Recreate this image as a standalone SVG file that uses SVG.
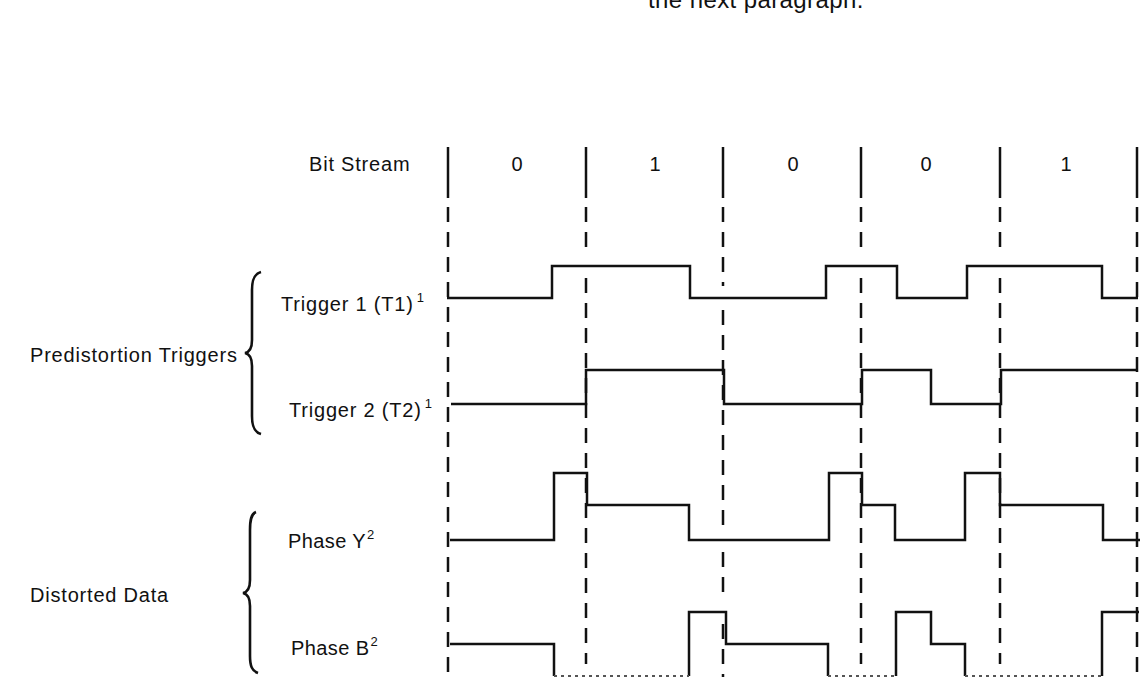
<svg xmlns="http://www.w3.org/2000/svg" width="1144" height="677" viewBox="0 0 1144 677">
<style>
  .lbl { font-family: "Liberation Sans", Arial, sans-serif; font-size: 20px; fill: #111; letter-spacing: 0.8px; }
  .sup { font-size: 13px; }
  .bit { font-family: "Liberation Sans", Arial, sans-serif; font-size: 20px; fill: #111; text-anchor: middle; }
  .wave { fill: none; stroke: #111; stroke-width: 2.5; stroke-linejoin: miter; }
  .solid { stroke: #111; stroke-width: 2.5; }
  .dash { fill: none; stroke: #111; stroke-width: 2.5; stroke-dasharray: 15 10; }
  .brace { fill: none; stroke: #111; stroke-width: 2.6; }
  .faint { fill: none; stroke: #555; stroke-width: 2; stroke-dasharray: 3 4; }
</style>
<rect width="1144" height="677" fill="#fff"/>

<g id="top-text">
  <text class="lbl" x="648" y="8" style="font-size:24px;letter-spacing:0.4px">the next paragraph.</text>
</g>

<g id="bitstream">
  <text class="lbl" x="309" y="171">Bit Stream</text>
  <line class="solid" x1="448" y1="147" x2="448" y2="198"/>
  <line class="solid" x1="586" y1="147" x2="586" y2="198"/>
  <line class="solid" x1="723" y1="147" x2="723" y2="198"/>
  <line class="solid" x1="861" y1="147" x2="861" y2="198"/>
  <line class="solid" x1="1000" y1="147" x2="1000" y2="198"/>
  <line class="solid" x1="1137" y1="147" x2="1137" y2="198"/>
  <text class="bit" x="517" y="171">0</text>
  <text class="bit" x="655" y="171">1</text>
  <text class="bit" x="793" y="171">0</text>
  <text class="bit" x="926" y="171">0</text>
  <text class="bit" x="1066" y="171">1</text>
</g>

<g id="connectors">
  <path class="dash" d="M448,207 V677"/>
  <path class="dash" d="M586,207 V254 M586,278 V664"/>
  <path class="dash" d="M723,207 V286 M723,310 V528 M723,552 V600 M723,624 V677"/>
  <path class="dash" d="M861,207 V254 M861,278 V664"/>
  <path class="dash" d="M1000,207 V254 M1000,278 V664"/>
  <path class="dash" d="M1137,207 V677"/>
</g>

<g id="group-predistortion">
  <text class="lbl" x="30" y="362">Predistortion Triggers</text>
  <path class="brace" d="M261,272 C254,274 252,280 252,290 L252,340 C252,348 250,352 245,353 C250,354 252,358 252,366 L252,416 C252,426 254,432 261,434"/>
</g>

<g id="trigger1">
  <text class="lbl" x="281" y="311">Trigger 1 (T1)<tspan class="sup" dx="3" dy="-9">1</tspan></text>
  <path class="wave" d="M447,298 H552 V266 H690 V298 H826 V266 H897 V298 H967 V266 H1102 V298 H1138"/>
</g>

<g id="trigger2">
  <text class="lbl" x="289" y="417">Trigger 2 (T2)<tspan class="sup" dx="3" dy="-9">1</tspan></text>
  <path class="wave" d="M451,404 H586 V370 H724 V404 H862 V370 H931 V404 H1001 V370 H1138"/>
</g>

<g id="group-distorted">
  <text class="lbl" x="30" y="602">Distorted Data</text>
  <path class="brace" d="M256,512 C251,514 250,520 250,530 L250,580 C250,588 248,592 243,593 C248,594 250,598 250,606 L250,656 C250,666 252,671 258,673"/>
</g>

<g id="phaseY">
  <text class="lbl" x="288" y="548" style="letter-spacing:0.4px">Phase Y<tspan class="sup" dx="1" dy="-9">2</tspan></text>
  <path class="wave" d="M450,540 H554 V473 H587 V505 H689 V540 H829 V473 H862 V505 H895 V540 H965 V473 H1000 V505 H1103 V540 H1140"/>
</g>

<g id="phaseB">
  <text class="lbl" x="291" y="655" style="letter-spacing:0.4px">Phase B<tspan class="sup" dx="1" dy="-9">2</tspan></text>
  <path class="wave" d="M450,644 H554 V676 M689,676 V612 H726 V644 H828 V676 M896,676 V612 H931 V644 H965 V676 M1102,676 V612 H1139"/>
  <path class="faint" d="M554,676 H689 M828,676 H896 M965,676 H1102"/>
</g>
</svg>
